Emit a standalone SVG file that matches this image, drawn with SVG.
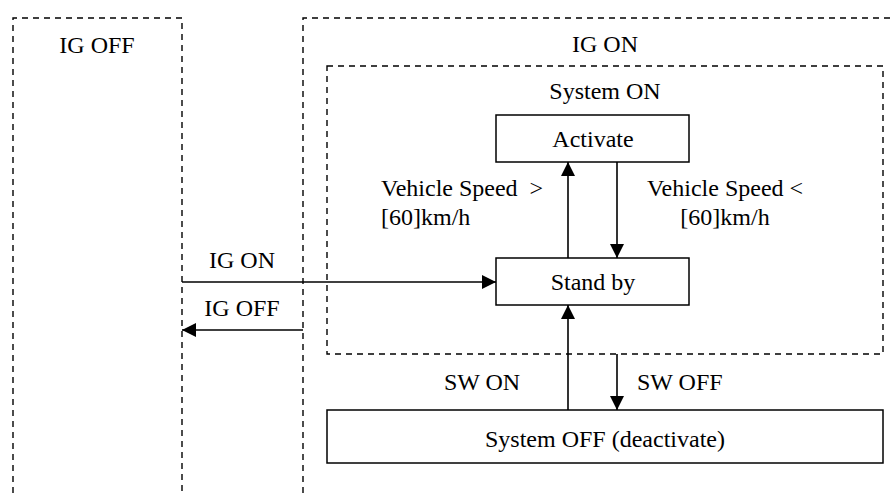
<svg xmlns="http://www.w3.org/2000/svg" width="894" height="493" viewBox="0 0 894 493">
<defs>
<style>
.dash{fill:none;stroke:#000;stroke-width:1.4;stroke-dasharray:6 5}
.box{fill:#fff;stroke:#000;stroke-width:1.5}
.ln{fill:none;stroke:#000;stroke-width:1.6}
text{font-family:"Liberation Serif","Times New Roman",serif;font-size:24px;fill:#000}
.c{text-anchor:middle}
</style>
<marker id="ah" viewBox="0 0 14 14" refX="14" refY="7" markerWidth="14" markerHeight="14" markerUnits="userSpaceOnUse" orient="auto">
<path d="M0,0 L14,7 L0,14 z" fill="#000"/>
</marker>
</defs>
<rect width="894" height="493" fill="#fff"/>
<g id="ig-off">
<path class="dash" d="M13,493 V18 H182 V493"/>
<text class="c" x="97" y="53">IG OFF</text>
</g>
<g id="ig-on">
<path class="dash" d="M303,493 V18 H894"/>
<text class="c" x="605" y="52">IG ON</text>
</g>
<g id="system-on">
<rect class="dash" x="327" y="66" width="556" height="288"/>
<text class="c" x="605" y="99">System ON</text>
</g>
<g id="activate">
<rect class="box" x="496" y="115" width="193" height="47"/>
<text class="c" x="593" y="147">Activate</text>
</g>
<g id="standby">
<rect class="box" x="496" y="258" width="193" height="47"/>
<text class="c" x="593" y="290">Stand by</text>
</g>
<g id="system-off">
<rect class="box" x="327" y="410" width="556" height="53"/>
<text class="c" x="605" y="447">System OFF (deactivate)</text>
</g>
<g id="connectors">
<line class="ln" x1="182" y1="282" x2="496" y2="282" marker-end="url(#ah)"/>
<line class="ln" x1="303" y1="330" x2="182" y2="330" marker-end="url(#ah)"/>
<line class="ln" x1="568" y1="258" x2="568" y2="162" marker-end="url(#ah)"/>
<line class="ln" x1="617" y1="162" x2="617" y2="258" marker-end="url(#ah)"/>
<line class="ln" x1="568" y1="410" x2="568" y2="305" marker-end="url(#ah)"/>
<line class="ln" x1="617" y1="354" x2="617" y2="410" marker-end="url(#ah)"/>
<text class="c" x="242" y="268">IG ON</text>
<text class="c" x="242" y="316">IG OFF</text>
<text x="381" y="196" xml:space="preserve">Vehicle Speed  &gt;</text>
<text x="381" y="225">[60]km/h</text>
<text class="c" x="725" y="196">Vehicle Speed &lt;</text>
<text class="c" x="725" y="225">[60]km/h</text>
<text class="c" x="482" y="390">SW ON</text>
<text x="637" y="390">SW OFF</text>
</g>
</svg>
